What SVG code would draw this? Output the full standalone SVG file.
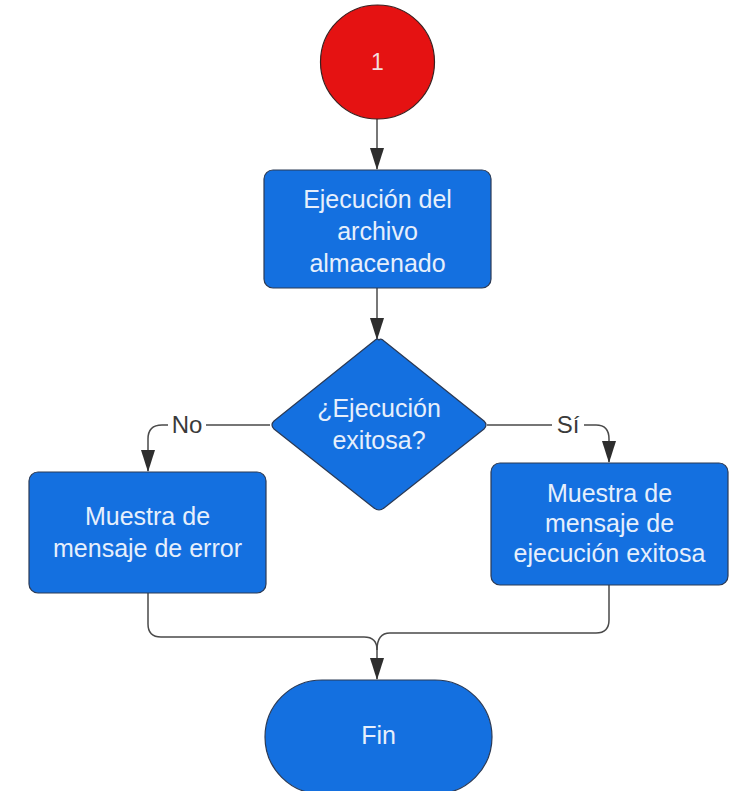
<svg xmlns="http://www.w3.org/2000/svg" width="735" height="791" viewBox="0 0 735 791">
<style>
.node{fill:#1470e0;stroke:#2b3a55;stroke-width:1.2}
.t{font-family:"Liberation Sans",Arial,sans-serif;font-size:25px;fill:#e6effc;text-anchor:middle}
.c{fill:none;stroke:#4a4a4a;stroke-width:1.5}
.lbl{font-family:"Liberation Sans",Arial,sans-serif;font-size:24px;fill:#3a3a3a;text-anchor:middle}
</style>
<defs>
<marker id="ah" viewBox="0 0 22 14" refX="21" refY="7" markerWidth="22" markerHeight="14" markerUnits="userSpaceOnUse" orient="auto">
<path d="M0,0 L22,7 L0,14 z" fill="#2e2e2e"/>
</marker>
</defs>
<rect width="735" height="791" fill="#fff"/>
<g id="connectors">
<path class="c" d="M377,119 L377,169" marker-end="url(#ah)"/>
<path class="c" d="M377,288 L377,339" marker-end="url(#ah)"/>
<path class="c" d="M270,425 L162,425 Q148,425 148,439 L148,471" marker-end="url(#ah)"/>
<path class="c" d="M487,425 L596,425 Q609,425 609,439 L609,462" marker-end="url(#ah)"/>
<path class="c" d="M148,593 L148,624 Q148,637 161,637 L364,637 Q377,637 377,650 L377,679" marker-end="url(#ah)"/>
<path class="c" d="M609,585 L609,620 Q609,633 596,633 L390,633 Q377,633 377,650"/>
<rect x="168" y="412" width="38" height="26" fill="#fff"/>
<text class="lbl" x="187" y="433">No</text>
<rect x="552" y="412" width="32" height="26" fill="#fff"/>
<text class="lbl" x="568" y="433">Sí</text>
</g>
<g id="start">
<circle cx="377.5" cy="62" r="57" fill="#e51212" stroke="#3a2020" stroke-width="1.2"/>
<text class="t" x="377.5" y="70" style="fill:#f3dede;font-size:23px">1</text>
</g>
<g id="exec">
<rect class="node" x="264" y="170" width="227" height="118" rx="9"/>
<text class="t" x="377.5" y="208">Ejecución del</text>
<text class="t" x="377.5" y="240">archivo</text>
<text class="t" x="377.5" y="272">almacenado</text>
</g>
<g id="decision">
<path class="node" d="M379,340 Q381,338 384,341 L484,421 Q488,425 484,429 L384,508 Q379,512 374,508 L274,429 Q270,425 274,421 L374,341 Q377,338 379,340 Z"/>
<text class="t" x="379" y="417">¿Ejecución</text>
<text class="t" x="379" y="449">exitosa?</text>
</g>
<g id="error">
<rect class="node" x="29" y="472" width="237" height="121" rx="9"/>
<text class="t" x="147.5" y="525">Muestra de</text>
<text class="t" x="147.5" y="557">mensaje de error</text>
</g>
<g id="success">
<rect class="node" x="491" y="463" width="237" height="122" rx="9"/>
<text class="t" x="609.5" y="502">Muestra de</text>
<text class="t" x="609.5" y="532">mensaje de</text>
<text class="t" x="609.5" y="562">ejecución exitosa</text>
</g>
<g id="fin">
<rect class="node" x="265" y="680" width="227" height="114" rx="57"/>
<text class="t" x="378.5" y="744">Fin</text>
</g>
</svg>
